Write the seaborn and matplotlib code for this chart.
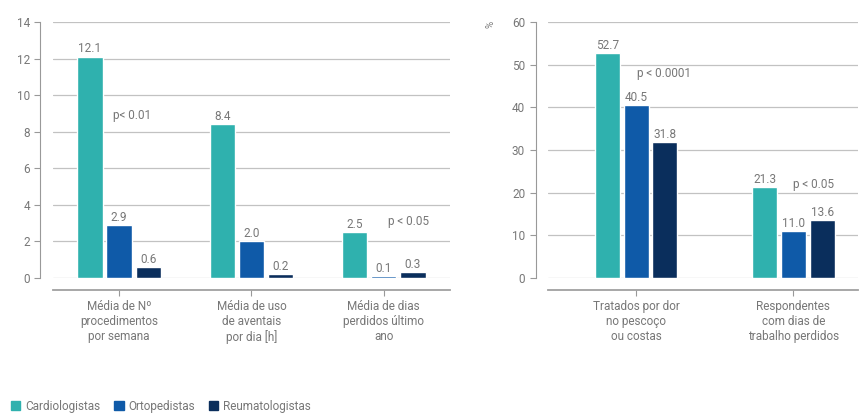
import pandas as pd
import seaborn as sns
import matplotlib.pyplot as plt

# data
grupos = ["Cardiologistas", "Ortopedistas", "Reumatologistas"]
cores = ["#2fb1ae", "#0f5aa8", "#0a2e5c"]

cats_esq = ["Média de Nº\nprocedimentos\npor semana",
            "Média de uso\nde aventais\npor dia [h]",
            "Média de dias\nperdidos último\nano"]
cardio_esq = [12.1, 8.4, 2.5]
orto_esq = [2.9, 2.0, 0.1]
reuma_esq = [0.6, 0.2, 0.3]
pvals_esq = ["p< 0.01", "", "p < 0.05"]

cats_dir = ["Tratados por dor\nno pescoço\nou costas",
            "Respondentes\ncom dias de\ntrabalho perdidos"]
cardio_dir = [52.7, 21.3]
orto_dir = [40.5, 11.0]
reuma_dir = [31.8, 13.6]
pvals_dir = ["p < 0.0001", "p < 0.05"]


def long_df(cats, a, b, c):
    rows = []
    for vals, g in zip([a, b, c], grupos):
        for cat, v in zip(cats, vals):
            rows.append([cat, g, v])
    return pd.DataFrame(rows, columns=["cat", "grupo", "val"])


sns.set_style("white")
plt.rcParams["font.family"] = ["Roboto", "DejaVu Sans"]
cinza = "#777777"

fig = plt.figure(figsize=(8.63, 4.16), dpi=100)
ax1 = fig.add_axes([0.0614, 0.332, 0.46, 0.615])
ax2 = fig.add_axes([0.635, 0.332, 0.359, 0.615])

df1 = long_df(cats_esq, cardio_esq, orto_esq, reuma_esq)
df2 = long_df(cats_dir, cardio_dir, orto_dir, reuma_dir)

sns.barplot(df1, x="cat", y="val", hue="grupo", palette=cores, width=0.66,
            gap=0.13, ax=ax1, legend=False, saturation=1)
sns.barplot(df2, x="cat", y="val", hue="grupo", palette=cores, width=0.55,
            gap=0.13, ax=ax2, legend=False, saturation=1)

ax1.set_ylim(0, 14)
ax1.set_yticks(range(0, 15, 2))
ax1.set_xlim(-0.5, 2.5)
ax2.set_ylim(0, 60)
ax2.set_yticks(range(0, 61, 10))
ax2.set_xlim(-0.56, 1.41)

for ax in (ax1, ax2):
    sns.despine(ax=ax, offset=9)
    ax.set_xlabel("")
    ax.set_ylabel("")
    ax.set_axisbelow(True)
    ax.yaxis.grid(True, color="#c2c2c2", lw=0.9)
    ax.spines["left"].set_color("#999999")
    ax.spines["bottom"].set_color("#a0a0a0")
    ax.spines["bottom"].set_linewidth(1.3)
    ax.tick_params(axis="both", colors="#999999", labelcolor=cinza, labelsize=8.5,
                   direction="out", length=4, width=0.8, left=True, bottom=True)
    ax.tick_params(axis="x", labelsize=8.5, pad=3)
    for cont in ax.containers:
        ax.bar_label(cont, fmt="%.1f", fontsize=8.5, color=cinza, padding=1)

# p-values
ax1.text(0.1, 8.9, pvals_esq[0], fontsize=8.5, color=cinza, ha="center", va="center")
ax1.text(2.19, 3.06, pvals_esq[2], fontsize=8.5, color=cinza, ha="center", va="center")
ax2.text(0.18, 48.0, pvals_dir[0], fontsize=8.5, color=cinza, ha="center", va="center")
ax2.text(1.13, 21.8, pvals_dir[1], fontsize=8.5, color=cinza, ha="center", va="center")

ax2.text(-0.185, 0.99, "%", transform=ax2.transAxes, fontsize=7, color=cinza,
         rotation=90, ha="center", va="center")

handles = [plt.Rectangle((0, 0), 1, 1, color=c) for c in cores]
fig.legend(handles, grupos, loc="lower left", bbox_to_anchor=(0.0, -0.018), ncol=3,
           frameon=False, fontsize=8.5, labelcolor=cinza, handlelength=0.8,
           handleheight=0.8, handletextpad=0.4, columnspacing=1.2)

fig.savefig("out.png", dpi=100)
